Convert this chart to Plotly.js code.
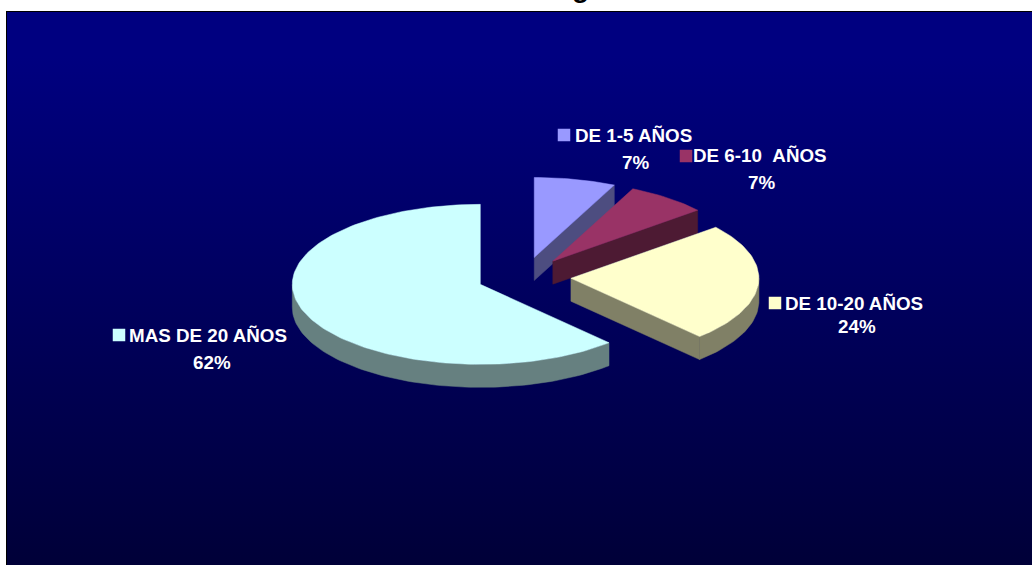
<!DOCTYPE html>
<html>
<head>
<meta charset="utf-8">
<script src="https://cdn.plot.ly/plotly-3.0.1.min.js"></script>
<style>
  html, body { margin: 0; padding: 0; background: #fff; overflow: hidden; }
  #frame {
    position: absolute; left: 6px; top: 11px; right: 0; height: 554px;
    box-sizing: border-box; border-top: 1px solid #000; border-left: 1px solid #000;
    background: linear-gradient(to bottom, #000080 0%, #000080 8%, #000038 100%);
  }
  #chart { position: absolute; left: 0; top: 0; width: 1032px; height: 565px; }
</style>
</head>
<body>
<div id="frame"></div>
<div id="chart"></div>
<script>
// Tenure bands and their share, clockwise from twelve o'clock
const categories = ["DE 1-5 AÑOS", "DE 6-10\u00a0\u00a0AÑOS", "DE 10-20 AÑOS", "MAS DE 20 AÑOS"];
const percentValues = [7, 7, 24, 62];
const faceColors = ["#9999FF", "#993366", "#FFFFCC", "#CCFFFF"];
const wallColors = ["#4D4D80", "#4D1A33", "#808066", "#668080"];

// Label placement in page pixels: key square, name centre, percentage centre
const keyPos = [[564, 135], [686, 156], [775, 303], [119, 335]];
const namePos = [[633, 135], [760, 156], [854, 303], [208, 335]];
const pctPos = [[635, 162], [761, 183], [857, 326], [212, 362]];

// Tilted pie geometry, in pixels of the page
const W = 1032, H = 565;
const cx = 524, cy = 277, rx = 188, ry = 80;
const explode = 0.25, depth = 23 / ry;

const pt = (deg, r, ox, oy, drop) => {
  const a = deg * Math.PI / 180;
  return [ox + r * Math.sin(a), oy + r * Math.cos(a) - drop];
};

function arc(from, to, ox, oy, drop) {
  const out = [], n = Math.max(2, Math.ceil(Math.abs(to - from) / 1.5));
  for (let i = 0; i <= n; i++) out.push(pt(from + (to - from) * i / n, 1, ox, oy, drop));
  return out;
}

const traces = [];
let start = 0;
percentValues.forEach((v, i) => {
  const sweep = v * 3.6, end = start + sweep, mid = start + sweep / 2;
  const [ox, oy] = pt(mid, explode, 0, 0, 0);
  const apexTop = [ox, oy], apexLow = [ox, oy - depth];
  const face = [apexTop, ...arc(start, end, ox, oy, 0), apexTop];

  // Side walls that face the viewer: the closing cut of the slice and the front of the rim
  const polys = [];
  if (Math.sin(end * Math.PI / 180) > 1e-6) {
    const a = pt(end, 1, ox, oy, 0), b = pt(end, 1, ox, oy, depth);
    polys.push([apexTop, a, b, apexLow, apexTop]);
  }
  const rimFrom = Math.max(start, 90), rimTo = Math.min(end, 270);
  if (rimTo > rimFrom) {
    polys.push([...arc(rimFrom, rimTo, ox, oy, 0), ...arc(rimTo, rimFrom, ox, oy, depth)]);
  }
  polys.forEach(p => {
    const closed = [...p, p[0]];
    traces.push({
      type: "scatter", mode: "lines", x: closed.map(q => q[0]), y: closed.map(q => q[1]), fill: "toself",
      fillcolor: wallColors[i], line: { color: wallColors[i], width: 0.5 }, hoverinfo: "skip"
    });
  });

  traces.push({
    type: "scatter", mode: "lines", x: face.map(p => p[0]), y: face.map(p => p[1]), fill: "toself",
    fillcolor: faceColors[i], line: { color: faceColors[i], width: 0.5 },
    name: categories[i], text: v + "%", hoverinfo: "name+text"
  });
  start = end;
});

// Legend-style key squares beside each label
const px = p => (p[0] - cx) / rx;
const py = p => (cy - p[1]) / ry;
traces.push({
  type: "scatter", mode: "markers",
  x: keyPos.map(px), y: keyPos.map(py),
  marker: { symbol: "square", size: 12.5, color: faceColors, line: { width: 0 } },
  hoverinfo: "skip"
});

const labelFont = { family: "Liberation Sans, Arial, sans-serif", size: 18.8, color: "#fff" };
const note = (text, p) => ({
  text: "<b>" + text + "</b>", x: p[0] / W, y: 1 - p[1] / H, xref: "paper", yref: "paper",
  xanchor: "center", yanchor: "middle", showarrow: false, font: labelFont, borderpad: 0
});

const annotations = [];
categories.forEach((c, i) => {
  annotations.push(note(c, namePos[i]));
  annotations.push(note(percentValues[i] + "%", pctPos[i]));
});
// Chart title, running off the top of the page with only the descender showing
annotations.push({
  text: "<b>g</b>", x: 580 / W, y: 1, xref: "paper", yref: "paper", xanchor: "center", yanchor: "bottom",
  yshift: -4, showarrow: false, borderpad: 0,
  font: { family: "Liberation Sans, Arial, sans-serif", size: 28, color: "#000" }
});

const hidden = { visible: false, fixedrange: true };
Plotly.newPlot("chart", traces, {
  width: W, height: H,
  margin: { l: 0, r: 0, t: 0, b: 0, pad: 0 },
  paper_bgcolor: "rgba(0,0,0,0)", plot_bgcolor: "rgba(0,0,0,0)",
  showlegend: false,
  xaxis: { ...hidden, range: [-cx / rx, (W - cx) / rx] },
  yaxis: { ...hidden, range: [(cy - H) / ry, cy / ry] },
  annotations
}, { displayModeBar: false, staticPlot: true });
</script>
</body>
</html>
